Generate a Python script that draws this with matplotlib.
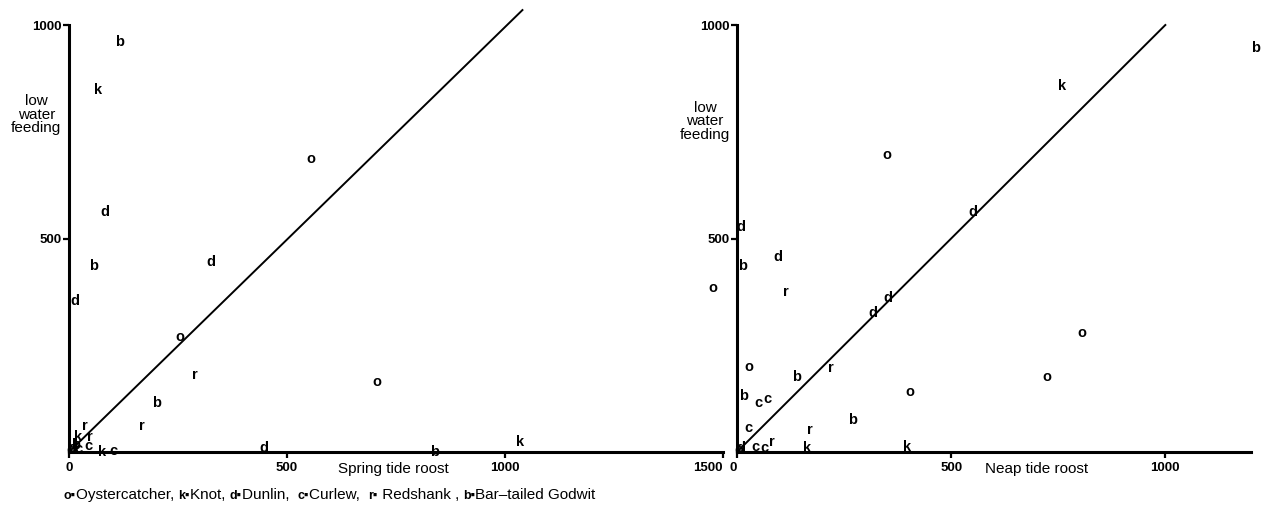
import matplotlib
matplotlib.use("Agg")
import matplotlib.pyplot as plt
from matplotlib.offsetbox import TextArea, HPacker, AnchoredOffsetbox

FONT = ['Liberation Sans', 'DejaVu Sans']
plt.rcParams['font.family'] = FONT

# ---------------- data ----------------
# Left panel: spring tide roost (x) vs low water feeding (y)
left_species = ['b', 'k', 'o', 'd', 'b', 'd', 'd', 'o', 'r', 'o', 'b', 'r',
                'r', 'k', 'r', 'b', 'c', 'k', 'c', 'd', 'b', 'k', 'o', 'd', 'c']
left_x = [117, 67, 555, 83, 57, 326, 14, 255, 289, 706, 200, 167,
          37, 21, 48, 14, 45, 76, 101, 447, 839, 1034, 5, 8, 22]
left_y = [960, 848, 686, 562, 436, 445, 354, 270, 180, 164, 115, 61,
          61, 35, 35, 16, 14, 0, 3, 10, 0, 23, 4, 10, 6]

# Right panel: neap tide roost (x) vs low water feeding (y)
right_species = ['b', 'k', 'o', 'd', 'd', 'd', 'b', 'r', 'd', 'd', 'o', 'o',
                 'b', 'r', 'o', 'o', 'o', 'b', 'c', 'c', 'b', 'c', 'r', 'k',
                 'r', 'c', 'c', 'k', 'o', 'd']
right_x = [1210, 759, 350, 551, 9, 96, 14, 114, 353, 318, 28, -56,
           138, 220, 804, 724, 404, 16, 50, 70, 269, 26, 171, 164,
           82, 42, 65, 397, 5, 10]
right_y = [946, 857, 696, 562, 527, 457, 436, 375, 361, 325, 199, 384,
           176, 197, 279, 176, 141, 131, 115, 125, 75, 56, 52, 9,
           23, 12, 9, 12, 4, 10]

left_xticks = [0, 500, 1000, 1500]
right_xticks = [0, 500, 1000]
yticks = [500, 1000]

left_line_x = [0, 1040]
left_line_y = [0, 1035]
right_line_x = [0, 1000]
right_line_y = [0, 1000]

legend_items = [('o', 'Oystercatcher, '), ('k', 'Knot, '), ('d', 'Dunlin,  '),
                ('c', 'Curlew,  '), ('r', ' Redshank , '), ('b', 'Bar\u2013tailed Godwit')]

# ---------------- figure ----------------
W, H = 1266, 517
fig = plt.figure(figsize=(W / 100, H / 100), dpi=100)


def px_axes(left, right, bottom, top):
    return fig.add_axes([left / W, 1 - bottom / H, (right - left) / W, (bottom - top) / H])


axL = px_axes(69, 723, 452, 25)
axR = px_axes(737, 1251, 452, 25)


def style(ax, xmax, xticks, xlabel, xlabel_x, ylab_x, ylab_y):
    ax.set_xlim(0, xmax)
    ax.set_ylim(0, 1000)
    for s in ['top', 'right']:
        ax.spines[s].set_visible(False)
    for s in ['left', 'bottom']:
        ax.spines[s].set_linewidth(2.2)
        ax.spines[s].set_color('black')
    ax.set_xticks(xticks)
    ax.set_xticklabels([str(t) for t in xticks])
    ax.set_yticks(yticks)
    ax.set_yticklabels([str(t) for t in yticks])
    ax.tick_params(axis='both', direction='out', length=4, width=1.6,
                   labelsize=9.5, colors='black')
    ax.tick_params(axis='x', pad=3)
    ax.tick_params(axis='y', pad=1)
    for lab in ax.get_xticklabels() + ax.get_yticklabels():
        lab.set_fontweight('bold')
    ax.text(xlabel_x, -0.04, xlabel, transform=ax.get_xaxis_transform(),
            ha='center', va='center', fontsize=11)
    ax.text(ylab_x, ylab_y, 'low\nwater\nfeeding', transform=ax.transAxes,
            ha='center', va='center', fontsize=11, linespacing=0.95,
            clip_on=False)


style(axL, 1500, left_xticks, 'Spring tide roost', 745, -0.05, 0.79)
style(axR, 1200, right_xticks, 'Neap tide roost', 700, -0.062, 0.775)

# end labels pulled inside like the reference
axL.get_xticklabels()[-1].set_horizontalalignment('right')
axR.get_xticklabels()[0].set_horizontalalignment('right')

axL.plot(left_line_x, left_line_y, color='black', lw=1.4, clip_on=False)
axR.plot(right_line_x, right_line_y, color='black', lw=1.4, clip_on=False)

for ax, sp, xs, ys in [(axL, left_species, left_x, left_y),
                       (axR, right_species, right_x, right_y)]:
    for s, x, y in zip(sp, xs, ys):
        ax.text(x, y, s, ha='center', va='center', fontsize=10.5,
                fontweight='bold', clip_on=False)

# legend line at the bottom
children = []
for letter, name in legend_items:
    children.append(TextArea(letter + '\u25aa', textprops=dict(fontsize=9, fontweight='bold')))
    children.append(TextArea(name, textprops=dict(fontsize=11)))
pack = HPacker(children=children, align='baseline', pad=0, sep=0)
box = AnchoredOffsetbox(loc='center left', child=pack, pad=0, frameon=False,
                        bbox_to_anchor=(64 / W, 1 - 495 / H),
                        bbox_transform=fig.transFigure, borderpad=0)
fig.add_artist(box)

fig.savefig('out.png', dpi=100)
